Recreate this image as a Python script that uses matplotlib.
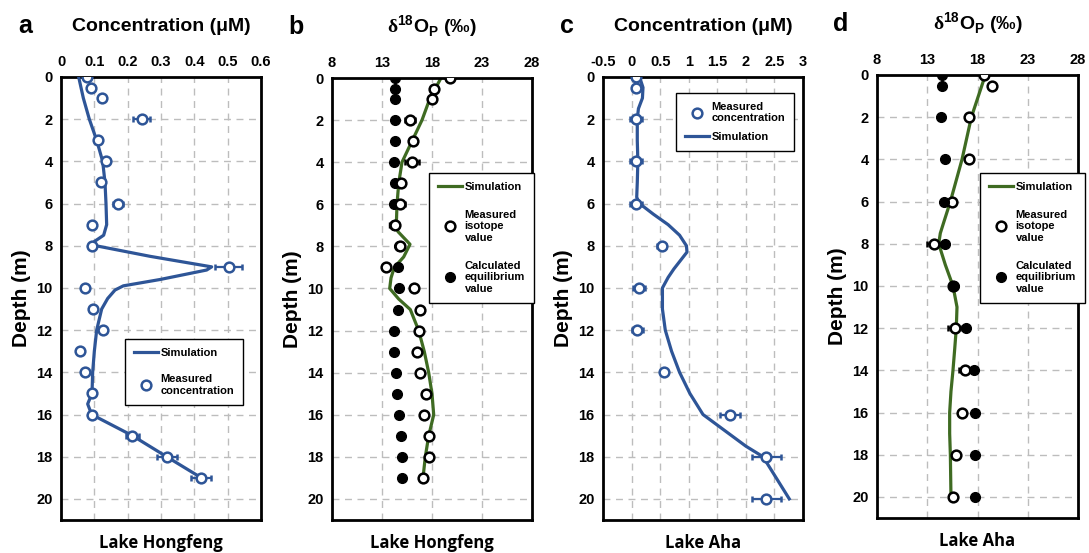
import matplotlib
matplotlib.use('Agg')
import matplotlib.pyplot as plt
from matplotlib.lines import Line2D

plt.rc('font', family=['Liberation Sans', 'DejaVu Sans'], weight='bold', size=10.5)
plt.rc('axes', labelweight='bold')
plt.rc('mathtext', fontset='custom', rm='Liberation Serif', bf='Liberation Sans:bold')

BLUE = '#2e5597'
GREEN = '#3f6b22'
GRID = '#bdbdbd'

# ---------------- Panel a: Lake Hongfeng concentration ----------------
a_depth = [0, 0.5, 1, 2, 3, 4, 5, 6, 7, 8, 9, 10, 11, 12, 13, 14, 15, 16, 17, 18, 19]
a_conc = [0.077, 0.089, 0.123, 0.242, 0.111, 0.135, 0.12, 0.172, 0.093, 0.094, 0.503,
          0.071, 0.097, 0.126, 0.057, 0.073, 0.094, 0.094, 0.214, 0.317, 0.421]
a_err = [0, 0, 0, 0.025, 0, 0, 0, 0.015, 0, 0, 0.04,
         0, 0, 0, 0, 0, 0, 0, 0.02, 0.03, 0.03]
a_sim_depth = [0, 1, 2, 3, 4, 5, 6, 7, 7.5, 7.8, 8, 8.5, 9, 9.15, 9.6, 9.9, 10.1,
               10.5, 11, 12, 13, 14, 15, 15.5, 16, 17, 18, 19]
a_sim = [0.053, 0.067, 0.085, 0.107, 0.125, 0.132, 0.135, 0.137, 0.128, 0.1, 0.105,
         0.267, 0.452, 0.437, 0.297, 0.187, 0.162, 0.14, 0.122, 0.107, 0.1, 0.095,
         0.093, 0.08, 0.092, 0.214, 0.317, 0.421]

# ---------------- Panel b: Lake Hongfeng d18Op ----------------
b_depth = [0, 0.5, 1, 2, 3, 4, 5, 6, 7, 8, 9, 10, 11, 12, 13, 14, 15, 16, 17, 18, 19]
b_meas = [19.83, 18.17, 18.03, 15.83, 16.1, 15.97, 14.93, 14.77, 14.33, 14.77, 13.43,
          16.23, 16.77, 16.7, 16.53, 16.77, 17.4, 17.17, 17.73, 17.73, 17.07]
b_meas_err = [0, 0, 0, 0.5, 0, 0.7, 0, 0.5, 0, 0, 0,
              0, 0, 0, 0, 0, 0, 0, 0, 0, 0]
b_calc = [14.33, 14.33, 14.33, 14.33, 14.33, 14.23, 14.27, 14.17, 14.23, 14.67, 14.63,
          14.67, 14.6, 14.2, 14.17, 14.43, 14.5, 14.7, 14.9, 14.97, 15.03]
b_calc_err = [0, 0, 0, 0, 0, 0, 0, 0, 0.5, 0.2, 0,
              0, 0, 0, 0, 0, 0, 0, 0, 0, 0]
b_sim_depth = [0, 1, 2, 3, 4, 5, 6, 7, 7.3, 7.9, 8.5, 9, 9.5, 10, 10.5, 11, 12, 13,
               14, 15, 16, 17, 18, 19]
b_sim = [18.9, 17.77, 17.0, 16.0, 15.0, 14.67, 14.5, 14.43, 14.6, 15.8, 15.17, 14.23,
         13.9, 13.77, 14.67, 15.83, 16.67, 17.23, 17.67, 18.0, 18.17, 17.67, 17.33, 17.1]

# ---------------- Panel c: Lake Aha concentration ----------------
c_depth = [0, 0.5, 2, 4, 6, 8, 10, 12, 14, 16, 18, 20]
c_conc = [0.084, 0.084, 0.08, 0.08, 0.08, 0.53, 0.13, 0.1, 0.56, 1.72, 2.36, 2.36]
c_err = [0, 0.06, 0.1, 0.1, 0.1, 0.08, 0.1, 0.1, 0, 0.18, 0.25, 0.25]
c_sim_depth = [0, 0.5, 1, 1.5, 2, 3, 4, 5, 5.7, 6, 6.5, 7, 7.5, 8, 8.3, 9.1, 9.5, 10,
               11, 12, 13, 14, 15, 16, 17, 17.5, 18, 19, 20]
c_sim = [0.14, 0.2, 0.19, 0.12, 0.1, 0.1, 0.11, 0.1, 0.09, 0.14, 0.38, 0.64, 0.84,
         0.96, 0.97, 0.74, 0.64, 0.54, 0.54, 0.59, 0.7, 0.84, 1.02, 1.25, 1.75, 2.0,
         2.3, 2.53, 2.76]

# ---------------- Panel d: Lake Aha d18Op ----------------
d_depth = [0, 0.5, 2, 4, 6, 8, 10, 12, 14, 16, 18, 20]
d_meas = [18.65, 19.42, 17.13, 17.13, 15.46, 13.7, 15.6, 15.73, 16.72, 16.49, 15.83, 15.56]
d_meas_err = [0, 0.2, 0.3, 0.2, 0.2, 0.7, 0, 0.7, 0.6, 0.2, 0, 0]
d_calc = [14.47, 14.47, 14.4, 14.8, 14.7, 14.77, 15.63, 16.89, 17.62, 17.72, 17.78, 17.78]
d_sim_depth = [0, 2, 4, 6, 7, 7.5, 8, 9, 10, 11, 12, 13, 14, 15, 16, 17, 18, 19, 20]
d_sim = [18.78, 17.39, 16.46, 15.3, 14.63, 14.3, 14.14, 14.8, 15.56, 15.96, 15.89,
         15.73, 15.56, 15.36, 15.23, 15.23, 15.3, 15.33, 15.36]

depth_ticks = list(range(0, 21, 2))
delta_title = r'$\mathrm{\delta}^{\mathbf{18}}$O$_{\mathbf{P}}$ (‰)'


def setup_axis(ax, xlim, xticks, xtick_labels, letter, title, lake):
    ax.set_xlim(*xlim)
    ax.set_ylim(21, 0)
    ax.xaxis.tick_top()
    ax.set_xticks(xticks)
    ax.set_xticklabels(xtick_labels)
    ax.set_yticks(depth_ticks)
    ax.tick_params(length=0, pad=6, labelsize=10.5)
    ax.grid(True, ls=(0, (5, 4)), color=GRID, lw=1)
    ax.set_axisbelow(True)
    for s in ax.spines.values():
        s.set_linewidth(2)
    ax.set_ylabel('Depth (m)', fontsize=15, fontweight='bold', labelpad=4)
    ax.set_xlabel(lake, fontsize=12, fontweight='bold',
                  family=['Open Sans', 'DejaVu Sans'], labelpad=10)
    ax.text(0.5, 1.115, title, transform=ax.transAxes, ha='center', va='center',
            fontsize=14, fontweight='bold')
    ax.text(-0.18, 1.115, letter, transform=ax.transAxes, ha='center', va='center',
            fontsize=18, fontweight='bold')


fig = plt.figure(figsize=(10.89, 5.53), dpi=100)
w = 200 / 1089
axa = fig.add_axes([61 / 1089, 1 - 520 / 553, w, 443 / 553])
axb = fig.add_axes([332 / 1089, 1 - 520 / 553, w, 442 / 553])
axc = fig.add_axes([603 / 1089, 1 - 520 / 553, w, 443 / 553])
axd = fig.add_axes([877 / 1089, 1 - 518 / 553, 201 / 1089, 443 / 553])

conc_ticks = [0, 0.1, 0.2, 0.3, 0.4, 0.5, 0.6]
delta_ticks = [8, 13, 18, 23, 28]
aha_ticks = [-0.5, 0, 0.5, 1, 1.5, 2, 2.5, 3]

setup_axis(axa, (0, 0.6), conc_ticks, ['0', '0.1', '0.2', '0.3', '0.4', '0.5', '0.6'],
           'a', 'Concentration (μM)', 'Lake Hongfeng')
setup_axis(axb, (8, 28), delta_ticks, [str(t) for t in delta_ticks],
           'b', delta_title, 'Lake Hongfeng')
setup_axis(axc, (-0.5, 3), aha_ticks, ['-0.5', '0', '0.5', '1', '1.5', '2', '2.5', '3'],
           'c', 'Concentration (μM)', 'Lake Aha')
setup_axis(axd, (8, 28), delta_ticks, [str(t) for t in delta_ticks],
           'd', delta_title, 'Lake Aha')

open_kw = dict(fmt='o', ms=7, mfc='white', mew=1.8, capsize=2.5, elinewidth=1.6, capthick=1.6)

# panel a
axa.plot(a_sim, a_sim_depth, color=BLUE, lw=2.3, zorder=3)
axa.errorbar(a_conc, a_depth, xerr=a_err, mec=BLUE, ecolor=BLUE, zorder=4, **open_kw)

# panel b
axb.errorbar(b_calc, b_depth, xerr=b_calc_err, fmt='o', ms=7, color='black',
             capsize=2.5, elinewidth=1.6, zorder=3)
axb.errorbar(b_meas, b_depth, xerr=b_meas_err, mec='black', ecolor='black', zorder=4, **open_kw)
axb.plot(b_sim, b_sim_depth, color=GREEN, lw=2.3, zorder=2)

# panel c
axc.plot(c_sim, c_sim_depth, color=BLUE, lw=2.3, zorder=3)
axc.errorbar(c_conc, c_depth, xerr=c_err, mec=BLUE, ecolor=BLUE, zorder=4, **open_kw)

# panel d
axd.plot(d_sim, d_sim_depth, color=GREEN, lw=2.3, zorder=2)
axd.errorbar(d_meas, d_depth, xerr=d_meas_err, mec='black', ecolor='black', zorder=3, **open_kw)
axd.plot(d_calc, d_depth, 'o', ms=7, color='black', zorder=4)

# legends
sim_blue = Line2D([], [], color=BLUE, lw=2.3)
meas_blue = Line2D([], [], ls='none', marker='o', ms=7, mfc='white', mec=BLUE, mew=1.8)
sim_green = Line2D([], [], color=GREEN, lw=2.3)
meas_black = Line2D([], [], ls='none', marker='o', ms=7, mfc='white', mec='black', mew=1.8)
calc_black = Line2D([], [], ls='none', marker='o', ms=7, color='black')

leg_kw = dict(loc='upper left', fancybox=False, edgecolor='black', framealpha=1,
              prop={'size': 8, 'weight': 'bold'}, handlelength=2.2, handletextpad=0.2,
              borderpad=0.8, borderaxespad=0)

la = axa.legend([sim_blue, meas_blue], ['Simulation', 'Measured\nconcentration'],
                bbox_to_anchor=(0.32, 0.409), labelspacing=1.5, **leg_kw)
la.get_frame().set_linewidth(1)
lb = axb.legend([sim_green, meas_black, calc_black],
                ['Simulation', 'Measured\nisotope\nvalue', 'Calculated\nequilibrium\nvalue'],
                bbox_to_anchor=(0.485, 0.785), labelspacing=1.6, **leg_kw)
lb.get_frame().set_linewidth(1)
lc = axc.legend([meas_blue, sim_blue], ['Measured\nconcentration', 'Simulation'],
                bbox_to_anchor=(0.365, 0.964), labelspacing=0.8, **leg_kw)
lc.get_frame().set_linewidth(1)
ld = axd.legend([sim_green, meas_black, calc_black],
                ['Simulation', 'Measured\nisotope\nvalue', 'Calculated\nequilibrium\nvalue'],
                bbox_to_anchor=(0.512, 0.779), labelspacing=1.6, **leg_kw)
ld.get_frame().set_linewidth(1)

fig.savefig('out.png', dpi=100)
